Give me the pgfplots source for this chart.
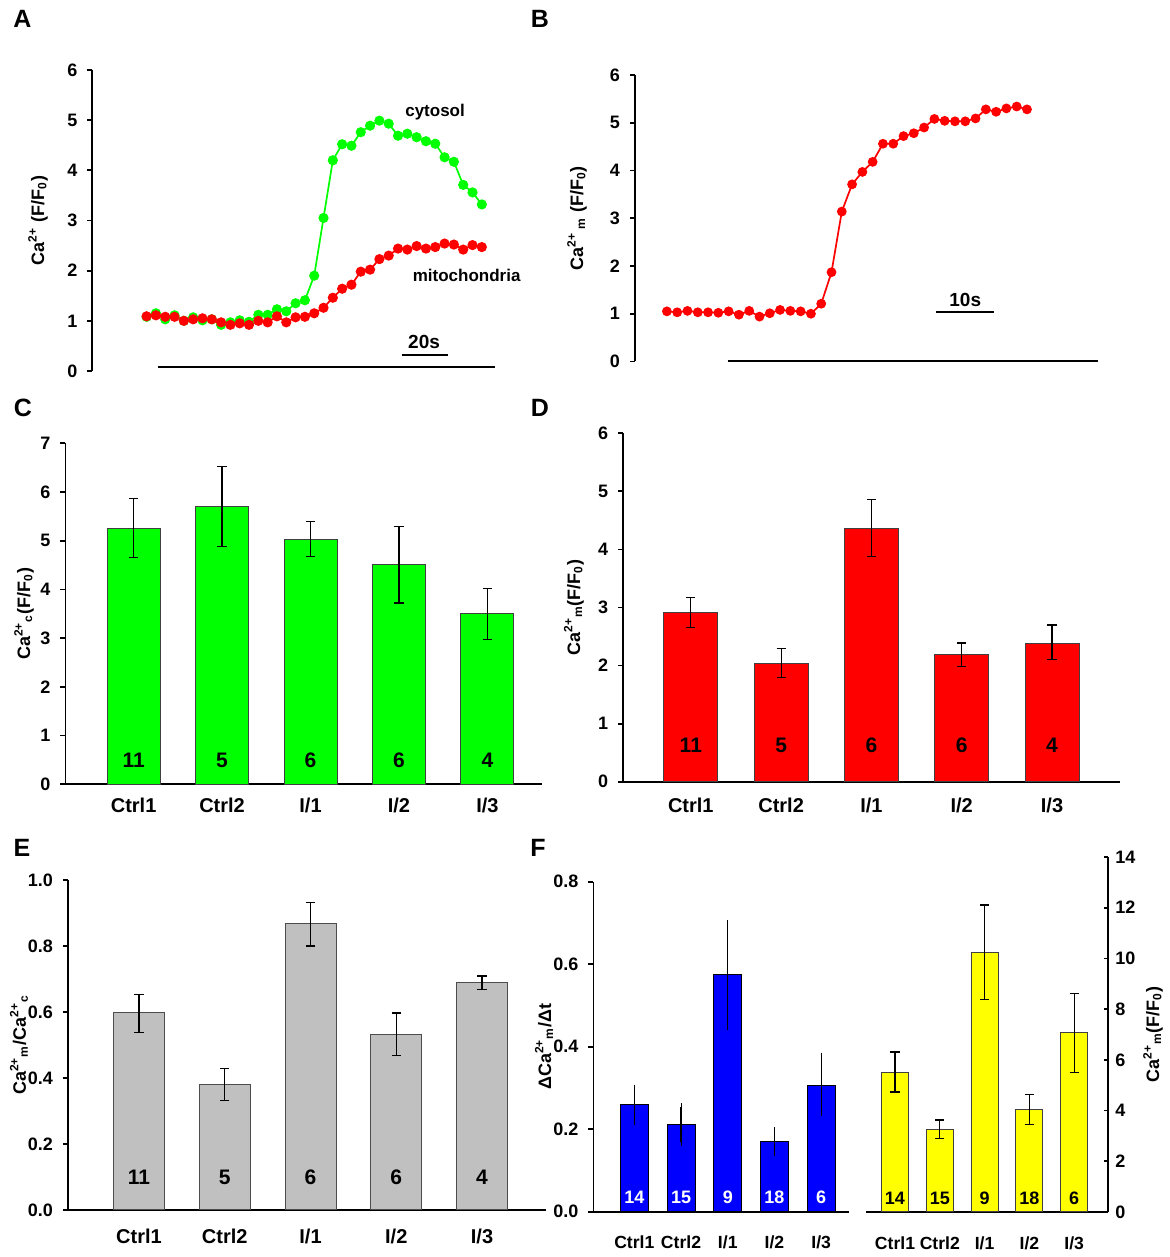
\documentclass[border=0pt]{standalone}
\usepackage{fontspec}
\setmainfont{Liberation Sans}
\usepackage{pgfplots}
\pgfplotsset{compat=1.18}
\definecolor{cgreen}{RGB}{0,255,0}
\definecolor{cred}{RGB}{255,0,0}
\definecolor{cblue}{RGB}{0,0,255}
\definecolor{cyellow}{RGB}{255,255,0}
\definecolor{cgray}{RGB}{192,192,192}
\newcommand{\tickfont}{\bfseries\fontsize{9}{10}\selectfont}
\newcommand{\labfont}{\bfseries\fontsize{9}{11}\selectfont}
\newcommand{\catfont}{\bfseries\fontsize{10}{12}\selectfont}
\newcommand{\catfontF}{\bfseries\fontsize{8.8}{11}\selectfont}
\newcommand{\cntfont}{\bfseries\fontsize{10.5}{12}\selectfont}
\newcommand{\cntfontF}{\bfseries\fontsize{9}{11}\selectfont}
\newcommand{\panfont}{\bfseries\fontsize{12.5}{15}\selectfont}
\pgfplotsset{
  panel/.style={scale only axis, clip=false, anchor=south west,
    /pgf/number format/assume math mode=true,
    tick label style={font=\tickfont},
    yticklabel style={xshift=-1.5pt},
    label style={font=\labfont},
    axis line style={line width=0.9pt, black},
    major tick length=2.5pt,
    every tick/.style={line width=0.9pt, black},
    tick align=outside,
    ymin=0},
  barpanel/.style={panel, axis x line*=bottom, axis y line*=left,
    xtick={0,...,4}, xticklabels={Ctrl1,Ctrl2,I/1,I/2,I/3},
    xtick style={draw=none},
    xticklabel style={font=\catfont}},
  bars/.style={ybar, bar width=#1, line width=0.5pt,
    error bars/.cd, y dir=both, y explicit,
    error bar style={line width=0.6pt, black},
    error mark options={rotate=90, mark size=2.3pt, line width=0.6pt, black}},
}
\begin{document}
\begin{tikzpicture}
\useasboundingbox (0,0) rectangle (585pt,628.5pt);
% panel letters
\node[font=\panfont] at (11.25pt,619pt) {A};
\node[font=\panfont] at (270pt,619pt) {B};
\node[font=\panfont] at (11.5pt,424.75pt) {C};
\node[font=\panfont] at (270pt,424.5pt) {D};
\node[font=\panfont] at (11pt,204.5pt) {E};
\node[font=\panfont] at (269pt,204.5pt) {F};

% ---------------- A ----------------
\begin{axis}[panel, at={(46.2pt,443pt)}, width=213.8pt, height=150.5pt,
  xmin=-5.82, xmax=40.1, ymax=6, ytick={0,...,6},
  axis y line*=left, axis x line=none, xtick=\empty,
  ylabel={Ca\textsuperscript{2+} (F/F\textsubscript{0})},
  ylabel style={at={(axis description cs:-0.127,0.5)}, anchor=center}]
\addplot[cgreen, line width=0.85pt, mark=*, mark size=2.1pt] coordinates {
(0,1.08)(1,1.15)(2,1.03)(3,1.11)(4,1.00)(5,1.07)(6,1.01)(7,1.03)(8,0.92)(9,0.97)
(10,1.01)(11,0.98)(12,1.12)(13,1.12)(14,1.23)(15,1.19)(16,1.35)(17,1.41)(18,1.90)(19,3.05)
(20,4.20)(21,4.52)(22,4.49)(23,4.76)(24,4.89)(25,4.99)(26,4.93)(27,4.69)(28,4.73)(29,4.66)
(30,4.58)(31,4.53)(32,4.26)(33,4.17)(34,3.71)(35,3.56)(36,3.32)};
\addplot[cred, line width=0.85pt, mark=*, mark size=2.1pt] coordinates {
(0,1.09)(1,1.11)(2,1.08)(3,1.08)(4,1.00)(5,1.03)(6,1.05)(7,1.03)(8,0.97)(9,0.92)
(10,0.95)(11,0.92)(12,1.00)(13,0.97)(14,1.09)(15,0.97)(16,1.07)(17,1.08)(18,1.15)(19,1.26)
(20,1.46)(21,1.64)(22,1.72)(23,1.98)(24,2.02)(25,2.23)(26,2.30)(27,2.44)(28,2.42)(29,2.49)
(30,2.44)(31,2.47)(32,2.54)(33,2.52)(34,2.42)(35,2.51)(36,2.47)};
\addplot[black, line width=1pt] coordinates {(1.18,0.086)(37.4,0.086)};
\addplot[black, line width=1pt] coordinates {(27.4,0.325)(32.4,0.325)};
\node[font=\bfseries\fontsize{9.5}{11}\selectfont] at (axis cs:29.8,0.584) {20s};
\node[font=\bfseries\fontsize{8.5}{10}\selectfont] at (axis cs:30.98,5.17) {cytosol};
\node[font=\bfseries\fontsize{8.5}{10}\selectfont] at (axis cs:34.37,1.91) {mitochondria};
\end{axis}

% ---------------- B ----------------
\begin{axis}[panel, at={(317.5pt,447.75pt)}, width=237.5pt, height=143.25pt,
  xmin=-3.1, xmax=43.07, ymax=6, ytick={0,...,6},
  axis y line*=left, axis x line=none, xtick=\empty,
  ylabel={Ca\textsuperscript{2+}\,\textsubscript{m} (F/F\textsubscript{0})},
  ylabel style={at={(axis description cs:-0.122,0.5)}, anchor=center}]
\addplot[cred, line width=0.85pt, mark=*, mark size=2pt] coordinates {
(0,1.05)(1,1.03)(2,1.06)(3,1.03)(4,1.03)(5,1.02)(6,1.05)(7,0.98)(8,1.06)(9,0.94)
(10,1.01)(11,1.08)(12,1.06)(13,1.05)(14,1.00)(15,1.21)(16,1.87)(17,3.14)(18,3.71)(19,3.97)
(20,4.18)(21,4.56)(22,4.56)(23,4.72)(24,4.78)(25,4.90)(26,5.08)(27,5.04)(28,5.03)(29,5.03)
(30,5.09)(31,5.28)(32,5.23)(33,5.30)(34,5.34)(35,5.28)};
\addplot[black, line width=1pt] coordinates {(5.9,0)(41.9,0)};
\addplot[black, line width=1pt] coordinates {(26.18,1.03)(31.75,1.03)};
\node[font=\bfseries\fontsize{9.5}{11}\selectfont] at (axis cs:29.0,1.29) {10s};
\end{axis}

% ---------------- C ----------------
\begin{axis}[barpanel, at={(32.75pt,236.35pt)}, width=238.25pt, height=170.5pt,
  xmin=-0.77, xmax=4.617, ymax=7, ytick={0,...,7},
  xticklabel style={yshift=-1pt},
  ylabel={Ca\textsuperscript{2+}\textsubscript{c}(F/F\textsubscript{0})},
  ylabel style={at={(axis description cs:-0.087,0.5)}, anchor=center}]
\addplot[fill=cgreen, draw=black!75, bars=26.5pt] coordinates {
(0,5.26) +- (0,0.61)
(1,5.70) +- (0,0.82)
(2,5.03) +- (0,0.36)
(3,4.51) +- (0,0.79)
(4,3.50) +- (0,0.52)};
\node[font=\cntfont] at (axis cs:0,0.5) {11};
\node[font=\cntfont] at (axis cs:1,0.5) {5};
\node[font=\cntfont] at (axis cs:2,0.5) {6};
\node[font=\cntfont] at (axis cs:3,0.5) {6};
\node[font=\cntfont] at (axis cs:4,0.5) {4};
\end{axis}

% ---------------- D ----------------
\begin{axis}[barpanel, at={(311.55pt,237.65pt)}, width=248.6pt, height=174.2pt,
  xmin=-0.75, xmax=4.756, ymax=6, ytick={0,...,6},
  xticklabel style={yshift=-2pt},
  ylabel={Ca\textsuperscript{2+}\textsubscript{m}(F/F\textsubscript{0})},
  ylabel style={at={(axis description cs:-0.0988,0.5)}, anchor=center}]
\addplot[fill=cred, draw=black!75, bars=27pt] coordinates {
(0,2.92) += (0,0.25) -= (0,0.26)
(1,2.04) += (0,0.26) -= (0,0.24)
(2,4.36) += (0,0.50) -= (0,0.48)
(3,2.19) +- (0,0.20)
(4,2.38) += (0,0.32) -= (0,0.28)};
\node[font=\cntfont] at (axis cs:0,0.63) {11};
\node[font=\cntfont] at (axis cs:1,0.63) {5};
\node[font=\cntfont] at (axis cs:2,0.63) {6};
\node[font=\cntfont] at (axis cs:3,0.63) {6};
\node[font=\cntfont] at (axis cs:4,0.63) {4};
\end{axis}

% ---------------- E ----------------
\begin{axis}[barpanel, at={(33.95pt,23.5pt)}, width=239.05pt, height=165pt,
  xmin=-0.829, xmax=4.746, ymax=1, ytick={0,0.2,...,1.0},
  yticklabel style={/pgf/number format/.cd, fixed, fixed zerofill, precision=1},
  xticklabel style={yshift=-3.5pt},
  ylabel={Ca\textsuperscript{2+}\textsubscript{m}/Ca\textsuperscript{2+}\textsubscript{c}},
  ylabel style={at={(axis description cs:-0.1023,0.5)}, anchor=center}]
\addplot[fill=cgray, draw=black!70, bars=25.5pt] coordinates {
(0,0.597) += (0,0.057) -= (0,0.059)
(1,0.379) += (0,0.049) -= (0,0.046)
(2,0.867) += (0,0.065) -= (0,0.067)
(3,0.533) +- (0,0.064)
(4,0.689) +- (0,0.020)};
\node[font=\cntfont] at (axis cs:0,0.1) {11};
\node[font=\cntfont] at (axis cs:1,0.1) {5};
\node[font=\cntfont] at (axis cs:2,0.1) {6};
\node[font=\cntfont] at (axis cs:3,0.1) {6};
\node[font=\cntfont] at (axis cs:4,0.1) {4};
\end{axis}

% ---------------- F left ----------------
\begin{axis}[barpanel, at={(296.7pt,22.65pt)}, width=127.9pt, height=165pt,
  xmin=-0.876, xmax=4.60, ymax=0.8, ytick={0,0.2,...,0.8},
  yticklabel style={/pgf/number format/.cd, fixed, fixed zerofill, precision=1},
  xticklabel style={font=\catfontF, yshift=-6pt},
  ylabel={ΔCa\textsuperscript{2+}\textsubscript{m}/Δt},
  ylabel style={at={(axis description cs:-0.193,0.5)}, anchor=center}]
\addplot[fill=cblue, draw=black, bars=14pt, error mark options={mark size=2pt}] coordinates {
(0,0.259) +- (0,0.039)
(1,0.2125) += (0,0.0415) -= (0,0.0445)
(2,0.574) +- (0,0.123)
(3,0.170) +- (0,0.026)
(4,0.307) += (0,0.069) -= (0,0.066)};
\node[font=\cntfontF, text=white] at (axis cs:0,0.034) {14};
\node[font=\cntfontF, text=white] at (axis cs:1,0.034) {15};
\node[font=\cntfontF, text=white] at (axis cs:2,0.034) {9};
\node[font=\cntfontF, text=white] at (axis cs:3,0.034) {18};
\node[font=\cntfontF, text=white] at (axis cs:4,0.034) {6};
\end{axis}

% ---------------- F right ----------------
\begin{axis}[barpanel, at={(433pt,22.5pt)}, width=121.15pt, height=177.5pt,
  axis y line*=right, tick align=inside, major tick length=2pt,
  yticklabel style={xshift=1.5pt},
  xmin=-0.647, xmax=4.761, ymax=14, ytick={0,2,...,14},
  xticklabel style={font=\catfontF, yshift=-9pt},
  ylabel={Ca\textsuperscript{2+}\textsubscript{m}(F/F\textsubscript{0})},
  ylabel style={at={(axis description cs:1.1845,0.5)}, anchor=center, rotate=0}]
\addplot[fill=cyellow, draw=black!75, bars=13.5pt] coordinates {
(0,5.52) +- (0,0.79)
(1,3.25) += (0,0.38) -= (0,0.34)
(2,10.24) +- (0,1.87)
(3,4.03) += (0,0.59) -= (0,0.57)
(4,7.07) +- (0,1.56)};
\node[font=\cntfontF] at (axis cs:0,0.55) {14};
\node[font=\cntfontF] at (axis cs:1,0.55) {15};
\node[font=\cntfontF] at (axis cs:2,0.55) {9};
\node[font=\cntfontF] at (axis cs:3,0.55) {18};
\node[font=\cntfontF] at (axis cs:4,0.55) {6};
\end{axis}
\end{tikzpicture}
\end{document}
